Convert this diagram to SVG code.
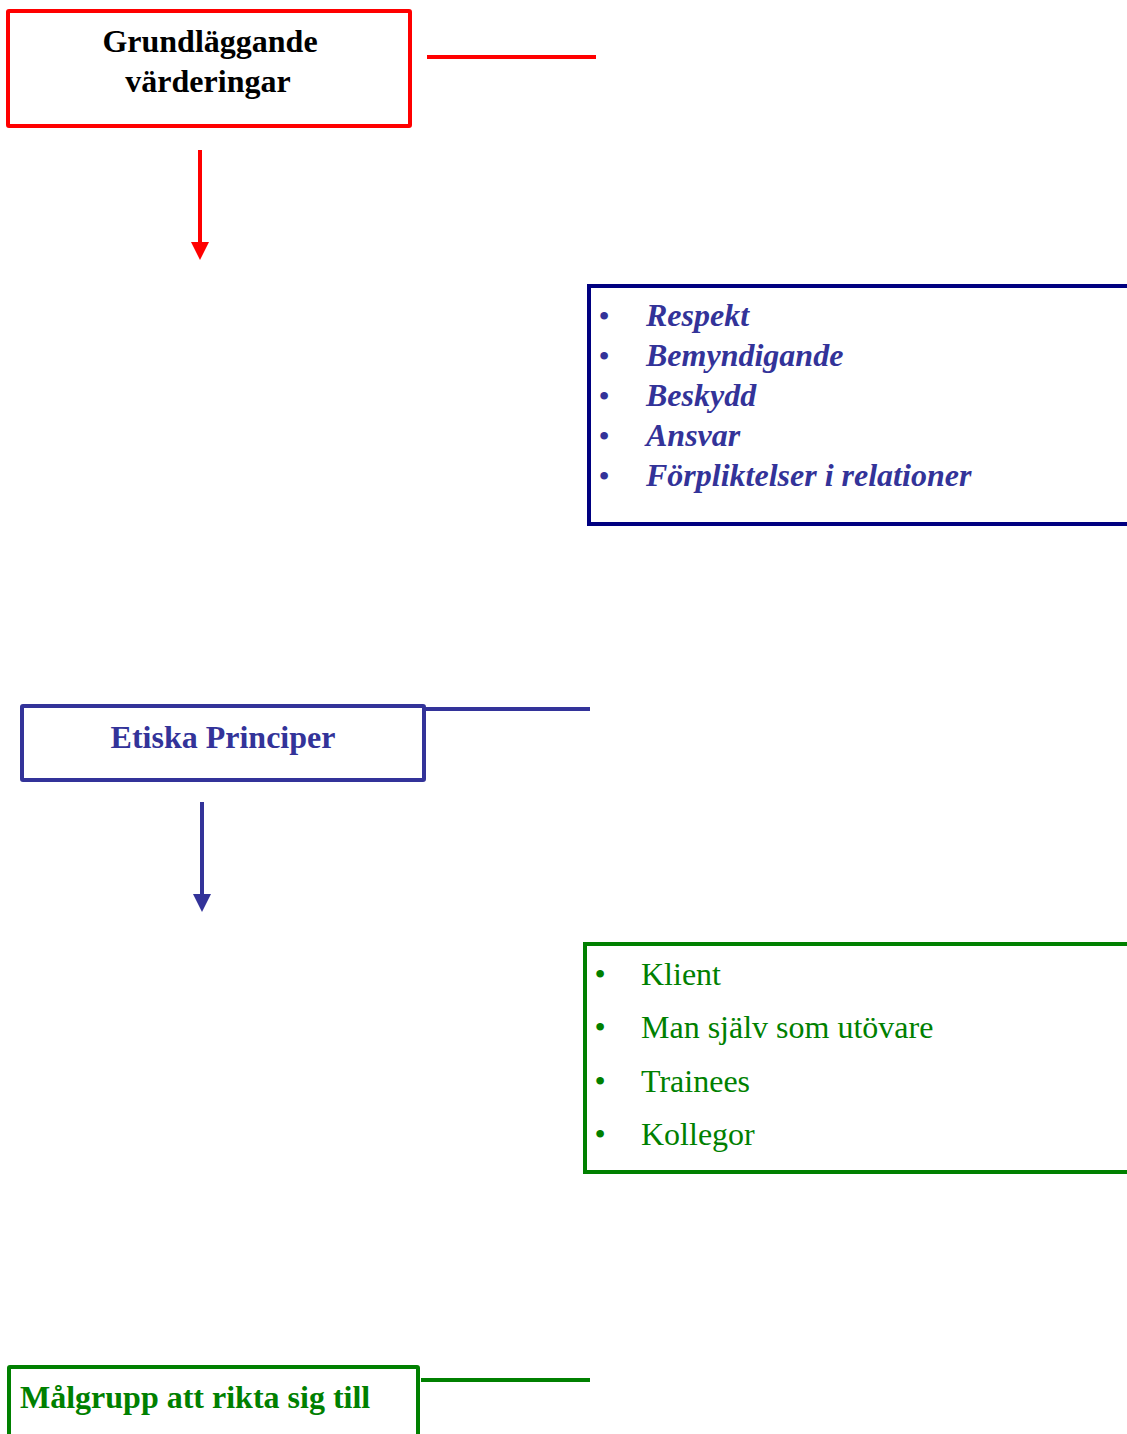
<svg xmlns="http://www.w3.org/2000/svg" width="1127" height="1434" viewBox="0 0 1127 1434">
<style>
.t{font-family:"Liberation Serif","Times New Roman",serif;font-size:32px}
.b{font-weight:bold}
.i{font-style:italic}
.red{fill:#FF0000}.blue{fill:#333399}.green{fill:#008000}.blk{fill:#000}
.bul{font-family:"Liberation Serif",serif;font-size:32px;text-anchor:middle}
</style>
<rect width="1127" height="1434" fill="#fff"/>
<g id="connectors" fill="none">
<line x1="427" y1="57" x2="596" y2="57" stroke="#FF0000" stroke-width="4"/>
<line x1="200" y1="150" x2="200" y2="244" stroke="#FF0000" stroke-width="4"/>
<polygon points="191,242 209,242 200,260" fill="#FF0000"/>
<line x1="425" y1="709" x2="590" y2="709" stroke="#333399" stroke-width="4"/>
<line x1="202" y1="802" x2="202" y2="896" stroke="#333399" stroke-width="4"/>
<polygon points="193,894 211,894 202,912" fill="#333399"/>
<line x1="421" y1="1380" x2="590" y2="1380" stroke="#008000" stroke-width="4"/>
</g>
<g id="node-grundlaggande">
<rect x="8" y="11" width="402" height="115" fill="none" stroke="#FF0000" stroke-width="4" rx="1"/>
<text class="t b blk" x="210" y="52" text-anchor="middle">Grundläggande</text>
<text class="t b blk" x="208" y="92" text-anchor="middle">värderingar</text>
</g>
<g id="node-varden">
<rect x="589" y="286" width="560" height="238" fill="none" stroke="#000080" stroke-width="4"/>
<g class="bul blue">
<text x="604" y="327">•</text><text x="604" y="367">•</text><text x="604" y="407">•</text><text x="604" y="447">•</text><text x="604" y="487">•</text>
</g>
<g class="t b i blue">
<text x="646" y="326">Respekt</text>
<text x="646" y="366">Bemyndigande</text>
<text x="646" y="406">Beskydd</text>
<text x="646" y="446">Ansvar</text>
<text x="646" y="486">Förpliktelser i relationer</text>
</g>
</g>
<g id="node-etiska">
<rect x="22" y="706" width="402" height="74" fill="none" stroke="#333399" stroke-width="4" rx="1"/>
<text class="t b blue" x="223" y="748" text-anchor="middle">Etiska Principer</text>
</g>
<g id="node-malgrupper">
<rect x="585" y="944" width="560" height="228" fill="none" stroke="#008000" stroke-width="4"/>
<g class="bul green">
<text x="600" y="985">•</text><text x="600" y="1038">•</text><text x="600" y="1092">•</text><text x="600" y="1145">•</text>
</g>
<g class="t green">
<text x="641" y="985">Klient</text>
<text x="641" y="1038">Man själv som utövare</text>
<text x="641" y="1092">Trainees</text>
<text x="641" y="1145">Kollegor</text>
</g>
</g>
<g id="node-malgrupp">
<rect x="9" y="1367" width="409" height="100" fill="none" stroke="#008000" stroke-width="4" rx="1"/>
<text class="t b green" x="20" y="1408">Målgrupp att rikta sig till</text>
</g>
</svg>
